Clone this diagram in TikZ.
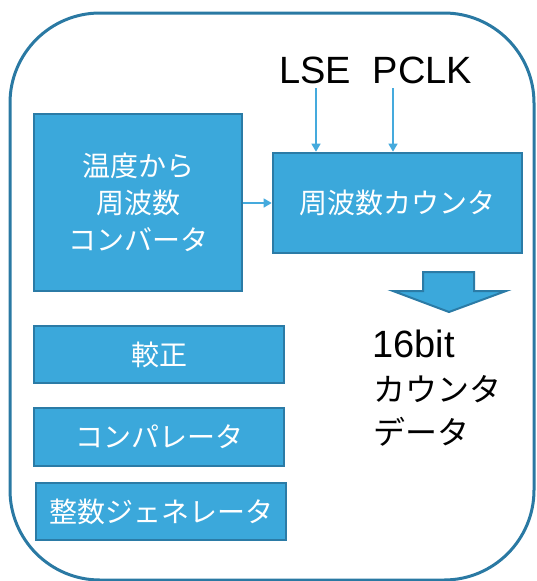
\documentclass[tikz,border=0pt]{standalone}
\usepackage{fontspec}
\setmainfont{Liberation Sans}
\newfontfamily\cjk{Noto Sans CJK JP}
\usetikzlibrary{arrows.meta}
\definecolor{boxfill}{HTML}{3BA8DB}
\definecolor{boxline}{HTML}{2B7BA6}
\definecolor{connline}{HTML}{45AADD}
\definecolor{outerline}{HTML}{2A79A3}
\tikzset{
  blk/.style={draw=boxline, fill=boxfill, line width=2.6pt, inner sep=0pt,
    text=white, font=\cjk\fontsize{28}{37}\selectfont, align=center},
  conn/.style={draw=connline, line width=1.3pt, -{Triangle[width=9pt,length=8pt]}},
  lbl/.style={inner sep=0pt, text=black},
}
\begin{document}
\begin{tikzpicture}[x=1pt, y=-1pt]
\useasboundingbox (0,0) rectangle (536,581);
% outer frame
\draw[outerline, line width=3pt, rounded corners=90pt] (10,13) rectangle (534,580);
% boxes
\node[blk, minimum width=208pt, minimum height=177pt] (conv) at (138,202.5) {温度から\\周波数\\コンバータ};
\node[blk, minimum width=249pt, minimum height=100pt] (counter) at (397.5,203) {周波数カウンタ};
\node[blk, minimum width=250pt, minimum height=57pt] (cal) at (159,354.5) {較正};
\node[blk, minimum width=250pt, minimum height=58pt] (comp) at (159,437) {コンパレータ};
\node[blk, minimum width=250pt, minimum height=57pt] (intgen) at (161,511.5) {整数ジェネレータ};
% top labels
\node[lbl, anchor=base, font=\fontsize{38}{40}\selectfont] (lse) at (315,83) {LSE};
\node[lbl, anchor=base, font=\fontsize{38}{40}\selectfont] (pclk) at (422.5,83) {PCLK};
\coordinate (lsestart) at (316,88);
\coordinate (pclkstart) at (393,88);
% connectors
\draw[conn] (lsestart) -- (lsestart |- counter.north);
\draw[conn] (pclkstart) -- (pclkstart |- counter.north);
\draw[conn] (conv.east |- counter.west) -- (counter.west);
% block arrow
\draw[boxline, fill=boxfill, line width=2pt, line join=miter]
  (423,272) -- (474,272) -- (474,291) -- (506,291) -- (449,312) -- (393,291) -- (423,291) -- cycle;
% output label
\node[lbl, anchor=base west, font=\fontsize{38}{40}\selectfont] (out1) at (372,357) {16bit};
\node[lbl, anchor=base west, font=\cjk\fontsize{32}{36}\selectfont] (out2) at (373,401) {カウンタ};
\node[lbl, anchor=base west, font=\cjk\fontsize{32}{36}\selectfont] (out3) at (373,444) {データ};
\end{tikzpicture}
\end{document}
